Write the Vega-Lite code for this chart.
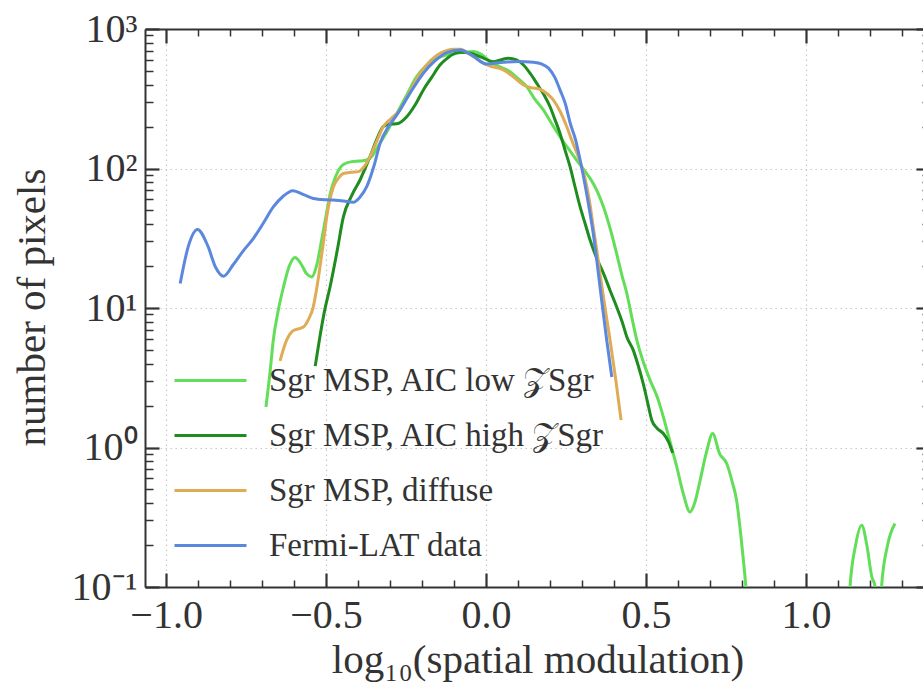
{
  "$schema": "https://vega.github.io/schema/vega-lite/v6.json",
  "autosize": {"type": "none"},
  "padding": {"left": 145, "top": 29, "right": 0, "bottom": 97},
  "width": 785,
  "height": 558,
  "background": "white",
  "config": {
    "view": {"stroke": null},
    "font": "Liberation Serif",
    "axis": {
      "domainColor": "#333333",
      "domainWidth": 2,
      "tickColor": "#333333",
      "labelFont": "Liberation Serif",
      "titleFont": "Liberation Serif",
      "labelColor": "#333333",
      "titleColor": "#333333",
      "titleFontWeight": "normal",
      "labelFontSize": 40,
      "titleFontSize": 41
    }
  },
  "data": {
    "values": [
      {"series": "Sgr MSP, AIC low 𝒵Sgr", "x": -0.688, "y": 1.95},
      {"series": "Sgr MSP, AIC low 𝒵Sgr", "x": -0.675, "y": 3.5},
      {"series": "Sgr MSP, AIC low 𝒵Sgr", "x": -0.665, "y": 5.9},
      {"series": "Sgr MSP, AIC low 𝒵Sgr", "x": -0.65, "y": 9.5},
      {"series": "Sgr MSP, AIC low 𝒵Sgr", "x": -0.633, "y": 14.2},
      {"series": "Sgr MSP, AIC low 𝒵Sgr", "x": -0.615, "y": 20},
      {"series": "Sgr MSP, AIC low 𝒵Sgr", "x": -0.597, "y": 23},
      {"series": "Sgr MSP, AIC low 𝒵Sgr", "x": -0.58, "y": 21},
      {"series": "Sgr MSP, AIC low 𝒵Sgr", "x": -0.56, "y": 17.5},
      {"series": "Sgr MSP, AIC low 𝒵Sgr", "x": -0.545, "y": 16.7},
      {"series": "Sgr MSP, AIC low 𝒵Sgr", "x": -0.53, "y": 20},
      {"series": "Sgr MSP, AIC low 𝒵Sgr", "x": -0.514, "y": 30.7},
      {"series": "Sgr MSP, AIC low 𝒵Sgr", "x": -0.5, "y": 46},
      {"series": "Sgr MSP, AIC low 𝒵Sgr", "x": -0.487, "y": 66},
      {"series": "Sgr MSP, AIC low 𝒵Sgr", "x": -0.47, "y": 88},
      {"series": "Sgr MSP, AIC low 𝒵Sgr", "x": -0.446, "y": 107},
      {"series": "Sgr MSP, AIC low 𝒵Sgr", "x": -0.42, "y": 112},
      {"series": "Sgr MSP, AIC low 𝒵Sgr", "x": -0.395, "y": 113},
      {"series": "Sgr MSP, AIC low 𝒵Sgr", "x": -0.373, "y": 115},
      {"series": "Sgr MSP, AIC low 𝒵Sgr", "x": -0.355, "y": 124},
      {"series": "Sgr MSP, AIC low 𝒵Sgr", "x": -0.341, "y": 140},
      {"series": "Sgr MSP, AIC low 𝒵Sgr", "x": -0.315, "y": 175},
      {"series": "Sgr MSP, AIC low 𝒵Sgr", "x": -0.29, "y": 223},
      {"series": "Sgr MSP, AIC low 𝒵Sgr", "x": -0.25, "y": 330},
      {"series": "Sgr MSP, AIC low 𝒵Sgr", "x": -0.217, "y": 456},
      {"series": "Sgr MSP, AIC low 𝒵Sgr", "x": -0.185, "y": 550},
      {"series": "Sgr MSP, AIC low 𝒵Sgr", "x": -0.154, "y": 617},
      {"series": "Sgr MSP, AIC low 𝒵Sgr", "x": -0.125, "y": 650},
      {"series": "Sgr MSP, AIC low 𝒵Sgr", "x": -0.102, "y": 662},
      {"series": "Sgr MSP, AIC low 𝒵Sgr", "x": -0.07, "y": 680},
      {"series": "Sgr MSP, AIC low 𝒵Sgr", "x": -0.04, "y": 689},
      {"series": "Sgr MSP, AIC low 𝒵Sgr", "x": -0.015, "y": 660},
      {"series": "Sgr MSP, AIC low 𝒵Sgr", "x": 0.0125, "y": 583},
      {"series": "Sgr MSP, AIC low 𝒵Sgr", "x": 0.04, "y": 540},
      {"series": "Sgr MSP, AIC low 𝒵Sgr", "x": 0.075, "y": 494},
      {"series": "Sgr MSP, AIC low 𝒵Sgr", "x": 0.1, "y": 440},
      {"series": "Sgr MSP, AIC low 𝒵Sgr", "x": 0.127, "y": 386},
      {"series": "Sgr MSP, AIC low 𝒵Sgr", "x": 0.15, "y": 320},
      {"series": "Sgr MSP, AIC low 𝒵Sgr", "x": 0.179, "y": 263},
      {"series": "Sgr MSP, AIC low 𝒵Sgr", "x": 0.205, "y": 210},
      {"series": "Sgr MSP, AIC low 𝒵Sgr", "x": 0.231, "y": 169},
      {"series": "Sgr MSP, AIC low 𝒵Sgr", "x": 0.258, "y": 138},
      {"series": "Sgr MSP, AIC low 𝒵Sgr", "x": 0.283, "y": 115},
      {"series": "Sgr MSP, AIC low 𝒵Sgr", "x": 0.31, "y": 95},
      {"series": "Sgr MSP, AIC low 𝒵Sgr", "x": 0.335, "y": 78},
      {"series": "Sgr MSP, AIC low 𝒵Sgr", "x": 0.352, "y": 65},
      {"series": "Sgr MSP, AIC low 𝒵Sgr", "x": 0.367, "y": 53},
      {"series": "Sgr MSP, AIC low 𝒵Sgr", "x": 0.388, "y": 37},
      {"series": "Sgr MSP, AIC low 𝒵Sgr", "x": 0.408, "y": 24.6},
      {"series": "Sgr MSP, AIC low 𝒵Sgr", "x": 0.425, "y": 17},
      {"series": "Sgr MSP, AIC low 𝒵Sgr", "x": 0.44, "y": 12.7},
      {"series": "Sgr MSP, AIC low 𝒵Sgr", "x": 0.455, "y": 8.7},
      {"series": "Sgr MSP, AIC low 𝒵Sgr", "x": 0.471, "y": 5.9},
      {"series": "Sgr MSP, AIC low 𝒵Sgr", "x": 0.49, "y": 4.2},
      {"series": "Sgr MSP, AIC low 𝒵Sgr", "x": 0.5125, "y": 3.04},
      {"series": "Sgr MSP, AIC low 𝒵Sgr", "x": 0.535, "y": 2.3},
      {"series": "Sgr MSP, AIC low 𝒵Sgr", "x": 0.554, "y": 1.66},
      {"series": "Sgr MSP, AIC low 𝒵Sgr", "x": 0.575, "y": 1.1},
      {"series": "Sgr MSP, AIC low 𝒵Sgr", "x": 0.596, "y": 0.726},
      {"series": "Sgr MSP, AIC low 𝒵Sgr", "x": 0.615, "y": 0.48},
      {"series": "Sgr MSP, AIC low 𝒵Sgr", "x": 0.6375, "y": 0.345},
      {"series": "Sgr MSP, AIC low 𝒵Sgr", "x": 0.652, "y": 0.4},
      {"series": "Sgr MSP, AIC low 𝒵Sgr", "x": 0.669, "y": 0.582},
      {"series": "Sgr MSP, AIC low 𝒵Sgr", "x": 0.69, "y": 0.95},
      {"series": "Sgr MSP, AIC low 𝒵Sgr", "x": 0.708, "y": 1.26},
      {"series": "Sgr MSP, AIC low 𝒵Sgr", "x": 0.73, "y": 0.9},
      {"series": "Sgr MSP, AIC low 𝒵Sgr", "x": 0.752, "y": 0.768},
      {"series": "Sgr MSP, AIC low 𝒵Sgr", "x": 0.77, "y": 0.56},
      {"series": "Sgr MSP, AIC low 𝒵Sgr", "x": 0.783, "y": 0.419},
      {"series": "Sgr MSP, AIC low 𝒵Sgr", "x": 0.795, "y": 0.25},
      {"series": "Sgr MSP, AIC low 𝒵Sgr", "x": 0.805, "y": 0.15},
      {"series": "Sgr MSP, AIC low 𝒵Sgr", "x": 0.812, "y": 0.1},
      {"series": "Sgr MSP, AIC low 𝒵Sgr", "x": 0.82, "y": 0.05},
      {"series": "Sgr MSP, AIC low 𝒵Sgr", "x": 1.13, "y": 0.05},
      {"series": "Sgr MSP, AIC low 𝒵Sgr", "x": 1.1375, "y": 0.1},
      {"series": "Sgr MSP, AIC low 𝒵Sgr", "x": 1.155, "y": 0.2},
      {"series": "Sgr MSP, AIC low 𝒵Sgr", "x": 1.174, "y": 0.277},
      {"series": "Sgr MSP, AIC low 𝒵Sgr", "x": 1.19, "y": 0.2},
      {"series": "Sgr MSP, AIC low 𝒵Sgr", "x": 1.205, "y": 0.12},
      {"series": "Sgr MSP, AIC low 𝒵Sgr", "x": 1.216, "y": 0.1},
      {"series": "Sgr MSP, AIC low 𝒵Sgr", "x": 1.222, "y": 0.05},
      {"series": "Sgr MSP, AIC low 𝒵Sgr", "x": 1.232, "y": 0.05},
      {"series": "Sgr MSP, AIC low 𝒵Sgr", "x": 1.236, "y": 0.1},
      {"series": "Sgr MSP, AIC low 𝒵Sgr", "x": 1.255, "y": 0.2},
      {"series": "Sgr MSP, AIC low 𝒵Sgr", "x": 1.278, "y": 0.285},

      {"series": "Sgr MSP, AIC high 𝒵Sgr", "x": -0.534, "y": 3.83},
      {"series": "Sgr MSP, AIC high 𝒵Sgr", "x": -0.521, "y": 5.9},
      {"series": "Sgr MSP, AIC high 𝒵Sgr", "x": -0.505, "y": 9.5},
      {"series": "Sgr MSP, AIC high 𝒵Sgr", "x": -0.4875, "y": 14.2},
      {"series": "Sgr MSP, AIC high 𝒵Sgr", "x": -0.465, "y": 26},
      {"series": "Sgr MSP, AIC high 𝒵Sgr", "x": -0.446, "y": 45},
      {"series": "Sgr MSP, AIC high 𝒵Sgr", "x": -0.42, "y": 64},
      {"series": "Sgr MSP, AIC high 𝒵Sgr", "x": -0.394, "y": 82.7},
      {"series": "Sgr MSP, AIC high 𝒵Sgr", "x": -0.3625, "y": 122},
      {"series": "Sgr MSP, AIC high 𝒵Sgr", "x": -0.34, "y": 165},
      {"series": "Sgr MSP, AIC high 𝒵Sgr", "x": -0.321, "y": 200},
      {"series": "Sgr MSP, AIC high 𝒵Sgr", "x": -0.3, "y": 208},
      {"series": "Sgr MSP, AIC high 𝒵Sgr", "x": -0.279, "y": 209},
      {"series": "Sgr MSP, AIC high 𝒵Sgr", "x": -0.248, "y": 235},
      {"series": "Sgr MSP, AIC high 𝒵Sgr", "x": -0.22, "y": 290},
      {"series": "Sgr MSP, AIC high 𝒵Sgr", "x": -0.196, "y": 366},
      {"series": "Sgr MSP, AIC high 𝒵Sgr", "x": -0.17, "y": 450},
      {"series": "Sgr MSP, AIC high 𝒵Sgr", "x": -0.144, "y": 552},
      {"series": "Sgr MSP, AIC high 𝒵Sgr", "x": -0.12, "y": 620},
      {"series": "Sgr MSP, AIC high 𝒵Sgr", "x": -0.102, "y": 662},
      {"series": "Sgr MSP, AIC high 𝒵Sgr", "x": -0.081, "y": 680},
      {"series": "Sgr MSP, AIC high 𝒵Sgr", "x": -0.05, "y": 670},
      {"series": "Sgr MSP, AIC high 𝒵Sgr", "x": -0.019, "y": 634},
      {"series": "Sgr MSP, AIC high 𝒵Sgr", "x": 0.023, "y": 583},
      {"series": "Sgr MSP, AIC high 𝒵Sgr", "x": 0.045, "y": 600},
      {"series": "Sgr MSP, AIC high 𝒵Sgr", "x": 0.07, "y": 617},
      {"series": "Sgr MSP, AIC high 𝒵Sgr", "x": 0.095, "y": 600},
      {"series": "Sgr MSP, AIC high 𝒵Sgr", "x": 0.117, "y": 552},
      {"series": "Sgr MSP, AIC high 𝒵Sgr", "x": 0.138, "y": 480},
      {"series": "Sgr MSP, AIC high 𝒵Sgr", "x": 0.158, "y": 409},
      {"series": "Sgr MSP, AIC high 𝒵Sgr", "x": 0.18, "y": 340},
      {"series": "Sgr MSP, AIC high 𝒵Sgr", "x": 0.2, "y": 277},
      {"series": "Sgr MSP, AIC high 𝒵Sgr", "x": 0.215, "y": 225},
      {"series": "Sgr MSP, AIC high 𝒵Sgr", "x": 0.231, "y": 179},
      {"series": "Sgr MSP, AIC high 𝒵Sgr", "x": 0.247, "y": 135},
      {"series": "Sgr MSP, AIC high 𝒵Sgr", "x": 0.2625, "y": 103},
      {"series": "Sgr MSP, AIC high 𝒵Sgr", "x": 0.278, "y": 74},
      {"series": "Sgr MSP, AIC high 𝒵Sgr", "x": 0.294, "y": 53},
      {"series": "Sgr MSP, AIC high 𝒵Sgr", "x": 0.31, "y": 40},
      {"series": "Sgr MSP, AIC high 𝒵Sgr", "x": 0.325, "y": 30.7},
      {"series": "Sgr MSP, AIC high 𝒵Sgr", "x": 0.345, "y": 23},
      {"series": "Sgr MSP, AIC high 𝒵Sgr", "x": 0.367, "y": 17.7},
      {"series": "Sgr MSP, AIC high 𝒵Sgr", "x": 0.388, "y": 13.3},
      {"series": "Sgr MSP, AIC high 𝒵Sgr", "x": 0.408, "y": 10.2},
      {"series": "Sgr MSP, AIC high 𝒵Sgr", "x": 0.425, "y": 8},
      {"series": "Sgr MSP, AIC high 𝒵Sgr", "x": 0.44, "y": 6.2},
      {"series": "Sgr MSP, AIC high 𝒵Sgr", "x": 0.46, "y": 4.99},
      {"series": "Sgr MSP, AIC high 𝒵Sgr", "x": 0.475, "y": 3.9},
      {"series": "Sgr MSP, AIC high 𝒵Sgr", "x": 0.491, "y": 2.88},
      {"series": "Sgr MSP, AIC high 𝒵Sgr", "x": 0.505, "y": 2.1},
      {"series": "Sgr MSP, AIC high 𝒵Sgr", "x": 0.518, "y": 1.57},
      {"series": "Sgr MSP, AIC high 𝒵Sgr", "x": 0.535, "y": 1.37},
      {"series": "Sgr MSP, AIC high 𝒵Sgr", "x": 0.554, "y": 1.26},
      {"series": "Sgr MSP, AIC high 𝒵Sgr", "x": 0.57, "y": 1.1},
      {"series": "Sgr MSP, AIC high 𝒵Sgr", "x": 0.583, "y": 0.915},

      {"series": "Sgr MSP, diffuse", "x": -0.644, "y": 4.18},
      {"series": "Sgr MSP, diffuse", "x": -0.623, "y": 5.9},
      {"series": "Sgr MSP, diffuse", "x": -0.602, "y": 6.9},
      {"series": "Sgr MSP, diffuse", "x": -0.585, "y": 7.1},
      {"series": "Sgr MSP, diffuse", "x": -0.571, "y": 7.3},
      {"series": "Sgr MSP, diffuse", "x": -0.555, "y": 8.3},
      {"series": "Sgr MSP, diffuse", "x": -0.54, "y": 10.2},
      {"series": "Sgr MSP, diffuse", "x": -0.53, "y": 13.5},
      {"series": "Sgr MSP, diffuse", "x": -0.519, "y": 19.8},
      {"series": "Sgr MSP, diffuse", "x": -0.508, "y": 30},
      {"series": "Sgr MSP, diffuse", "x": -0.498, "y": 45},
      {"series": "Sgr MSP, diffuse", "x": -0.488, "y": 60},
      {"series": "Sgr MSP, diffuse", "x": -0.477, "y": 74},
      {"series": "Sgr MSP, diffuse", "x": -0.46, "y": 86},
      {"series": "Sgr MSP, diffuse", "x": -0.446, "y": 92},
      {"series": "Sgr MSP, diffuse", "x": -0.42, "y": 94},
      {"series": "Sgr MSP, diffuse", "x": -0.399, "y": 95},
      {"series": "Sgr MSP, diffuse", "x": -0.38, "y": 104},
      {"series": "Sgr MSP, diffuse", "x": -0.3625, "y": 122},
      {"series": "Sgr MSP, diffuse", "x": -0.34, "y": 160},
      {"series": "Sgr MSP, diffuse", "x": -0.321, "y": 200},
      {"series": "Sgr MSP, diffuse", "x": -0.295, "y": 230},
      {"series": "Sgr MSP, diffuse", "x": -0.269, "y": 263},
      {"series": "Sgr MSP, diffuse", "x": -0.24, "y": 350},
      {"series": "Sgr MSP, diffuse", "x": -0.206, "y": 482},
      {"series": "Sgr MSP, diffuse", "x": -0.175, "y": 590},
      {"series": "Sgr MSP, diffuse", "x": -0.144, "y": 670},
      {"series": "Sgr MSP, diffuse", "x": -0.12, "y": 705},
      {"series": "Sgr MSP, diffuse", "x": -0.102, "y": 716},
      {"series": "Sgr MSP, diffuse", "x": -0.081, "y": 716},
      {"series": "Sgr MSP, diffuse", "x": -0.06, "y": 680},
      {"series": "Sgr MSP, diffuse", "x": -0.04, "y": 634},
      {"series": "Sgr MSP, diffuse", "x": -0.015, "y": 580},
      {"series": "Sgr MSP, diffuse", "x": 0.0125, "y": 543},
      {"series": "Sgr MSP, diffuse", "x": 0.054, "y": 509},
      {"series": "Sgr MSP, diffuse", "x": 0.085, "y": 455},
      {"series": "Sgr MSP, diffuse", "x": 0.117, "y": 397},
      {"series": "Sgr MSP, diffuse", "x": 0.14, "y": 380},
      {"series": "Sgr MSP, diffuse", "x": 0.169, "y": 370},
      {"series": "Sgr MSP, diffuse", "x": 0.19, "y": 345},
      {"series": "Sgr MSP, diffuse", "x": 0.21, "y": 310},
      {"series": "Sgr MSP, diffuse", "x": 0.232, "y": 255},
      {"series": "Sgr MSP, diffuse", "x": 0.252, "y": 200},
      {"series": "Sgr MSP, diffuse", "x": 0.27, "y": 155},
      {"series": "Sgr MSP, diffuse", "x": 0.288, "y": 122},
      {"series": "Sgr MSP, diffuse", "x": 0.302, "y": 98},
      {"series": "Sgr MSP, diffuse", "x": 0.315, "y": 74},
      {"series": "Sgr MSP, diffuse", "x": 0.325, "y": 55},
      {"series": "Sgr MSP, diffuse", "x": 0.335, "y": 38},
      {"series": "Sgr MSP, diffuse", "x": 0.346, "y": 26},
      {"series": "Sgr MSP, diffuse", "x": 0.356, "y": 17.7},
      {"series": "Sgr MSP, diffuse", "x": 0.372, "y": 10},
      {"series": "Sgr MSP, diffuse", "x": 0.3875, "y": 5.9},
      {"series": "Sgr MSP, diffuse", "x": 0.405, "y": 3.1},
      {"series": "Sgr MSP, diffuse", "x": 0.422, "y": 1.57},

      {"series": "Fermi-LAT data", "x": -0.956, "y": 15.0},
      {"series": "Fermi-LAT data", "x": -0.93, "y": 28},
      {"series": "Fermi-LAT data", "x": -0.902, "y": 36.6},
      {"series": "Fermi-LAT data", "x": -0.87, "y": 28},
      {"series": "Fermi-LAT data", "x": -0.845, "y": 19.5},
      {"series": "Fermi-LAT data", "x": -0.821, "y": 16.9},
      {"series": "Fermi-LAT data", "x": -0.79, "y": 20.5},
      {"series": "Fermi-LAT data", "x": -0.76, "y": 25.5},
      {"series": "Fermi-LAT data", "x": -0.727, "y": 31.6},
      {"series": "Fermi-LAT data", "x": -0.695, "y": 41},
      {"series": "Fermi-LAT data", "x": -0.665, "y": 53},
      {"series": "Fermi-LAT data", "x": -0.635, "y": 63},
      {"series": "Fermi-LAT data", "x": -0.604, "y": 69.3},
      {"series": "Fermi-LAT data", "x": -0.57, "y": 65},
      {"series": "Fermi-LAT data", "x": -0.54, "y": 61},
      {"series": "Fermi-LAT data", "x": -0.5, "y": 59.7},
      {"series": "Fermi-LAT data", "x": -0.477, "y": 59.4},
      {"series": "Fermi-LAT data", "x": -0.445, "y": 58.5},
      {"series": "Fermi-LAT data", "x": -0.415, "y": 57.2},
      {"series": "Fermi-LAT data", "x": -0.395, "y": 62},
      {"series": "Fermi-LAT data", "x": -0.373, "y": 74},
      {"series": "Fermi-LAT data", "x": -0.35, "y": 105},
      {"series": "Fermi-LAT data", "x": -0.331, "y": 152},
      {"series": "Fermi-LAT data", "x": -0.305, "y": 200},
      {"series": "Fermi-LAT data", "x": -0.279, "y": 242},
      {"series": "Fermi-LAT data", "x": -0.24, "y": 340},
      {"series": "Fermi-LAT data", "x": -0.196, "y": 482},
      {"series": "Fermi-LAT data", "x": -0.16, "y": 590},
      {"series": "Fermi-LAT data", "x": -0.123, "y": 678},
      {"series": "Fermi-LAT data", "x": -0.081, "y": 708},
      {"series": "Fermi-LAT data", "x": -0.04, "y": 640},
      {"series": "Fermi-LAT data", "x": 0.0, "y": 562},
      {"series": "Fermi-LAT data", "x": 0.054, "y": 578},
      {"series": "Fermi-LAT data", "x": 0.1, "y": 585},
      {"series": "Fermi-LAT data", "x": 0.148, "y": 578},
      {"series": "Fermi-LAT data", "x": 0.175, "y": 560},
      {"series": "Fermi-LAT data", "x": 0.195, "y": 524},
      {"series": "Fermi-LAT data", "x": 0.215, "y": 450},
      {"series": "Fermi-LAT data", "x": 0.231, "y": 366},
      {"series": "Fermi-LAT data", "x": 0.248, "y": 290},
      {"series": "Fermi-LAT data", "x": 0.263, "y": 211},
      {"series": "Fermi-LAT data", "x": 0.28, "y": 160},
      {"series": "Fermi-LAT data", "x": 0.294, "y": 115},
      {"series": "Fermi-LAT data", "x": 0.31, "y": 75},
      {"series": "Fermi-LAT data", "x": 0.325, "y": 47.7},
      {"series": "Fermi-LAT data", "x": 0.336, "y": 33},
      {"series": "Fermi-LAT data", "x": 0.346, "y": 22},
      {"series": "Fermi-LAT data", "x": 0.36, "y": 12},
      {"series": "Fermi-LAT data", "x": 0.377, "y": 5.9},
      {"series": "Fermi-LAT data", "x": 0.393, "y": 3.2}
    ]
  },
  "layer": [
    {
      "mark": {"type": "line", "clip": true, "strokeWidth": 3, "interpolate": "monotone"},
      "encoding": {
        "x": {
          "field": "x", "type": "quantitative",
          "scale": {"domain": [-1.066, 1.3875], "nice": false, "zero": false},
          "axis": {
            "orient": "bottom",
            "title": "log₁₀(spatial modulation)",
            "titleY": 85,
            "titleBaseline": "alphabetic",
            "values": [-1.0, -0.9, -0.8, -0.7, -0.6, -0.5, -0.4, -0.3, -0.2, -0.1, 0.0, 0.1, 0.2, 0.3, 0.4, 0.5, 0.6, 0.7, 0.8, 0.9, 1.0, 1.1, 1.2, 1.3],
            "labelExpr": "abs(datum.value*2 - round(datum.value*2)) < 0.001 ? format(datum.value, '.1f') : ''",
            "labelPadding": 22,
            "labelBaseline": "top",
            "labelFlush": false,
            "labelOverlap": false,
            "tickSize": {"condition": {"test": "abs(datum.value*2 - round(datum.value*2)) < 0.001", "value": -14}, "value": -7},
            "tickWidth": {"condition": {"test": "abs(datum.value*2 - round(datum.value*2)) < 0.001", "value": 2.2}, "value": 1.5},
            "grid": true,
            "gridColor": "#c8c8c8",
            "gridDash": [1.5, 3.5],
            "gridWidth": 1.2,
            "gridOpacity": {"condition": {"test": "abs(datum.value*2 - round(datum.value*2)) < 0.001", "value": 1}, "value": 0}
          }
        },
        "y": {
          "field": "y", "type": "quantitative",
          "scale": {"type": "log", "domain": [0.1, 1000], "nice": false},
          "axis": {
            "orient": "left",
            "title": "number of pixels",
            "titleX": -101,
            "titleY": 278,
            "titleBaseline": "alphabetic",
            "values": [0.1, 0.2, 0.3, 0.4, 0.5, 0.6, 0.7, 0.8, 0.9, 1, 2, 3, 4, 5, 6, 7, 8, 9, 10, 20, 30, 40, 50, 60, 70, 80, 90, 100, 200, 300, 400, 500, 600, 700, 800, 900, 1000],
            "labelExpr": "datum.value == 0.1 ? '10⁻¹' : datum.value == 1 ? '10⁰' : datum.value == 10 ? '10¹' : datum.value == 100 ? '10²' : datum.value == 1000 ? '10³' : ''",
            "labelPadding": 22,
            "labelFlush": false,
            "labelOverlap": false,
            "tickSize": {"condition": {"test": "abs(log(datum.value)/LN10 - round(log(datum.value)/LN10)) < 0.001", "value": -14}, "value": -8},
            "tickWidth": {"condition": {"test": "abs(log(datum.value)/LN10 - round(log(datum.value)/LN10)) < 0.001", "value": 2.2}, "value": 1.5},
            "grid": true,
            "gridColor": "#c8c8c8",
            "gridDash": [1.5, 3.5],
            "gridWidth": 1.2,
            "gridOpacity": {"condition": {"test": "abs(log(datum.value)/LN10 - round(log(datum.value)/LN10)) < 0.001", "value": 1}, "value": 0}
          }
        },
        "color": {
          "field": "series", "type": "nominal",
          "scale": {
            "domain": ["Sgr MSP, AIC low 𝒵Sgr", "Sgr MSP, AIC high 𝒵Sgr", "Sgr MSP, diffuse", "Fermi-LAT data"],
            "range": ["#62de58", "#1e8c1e", "#dfac55", "#5b87df"]
          },
          "legend": {
            "orient": "none",
            "legendX": 28,
            "legendY": 314,
            "title": null,
            "symbolType": "stroke",
            "symbolSize": 5184,
            "symbolStrokeWidth": 3,
            "labelFont": "Liberation Serif",
            "labelFontSize": 33,
            "labelColor": "#333333",
            "labelOffset": 21,
            "labelLimit": 600,
            "rowPadding": -2.5,
            "padding": 0
          }
        }
      }
    },
    {
      "mark": {"type": "point", "opacity": 0},
      "encoding": {
        "x": {
          "field": "x", "type": "quantitative",
          "axis": {
            "orient": "top",
            "title": null,
            "labels": false,
            "grid": false,
            "values": [-1.0, -0.9, -0.8, -0.7, -0.6, -0.5, -0.4, -0.3, -0.2, -0.1, 0.0, 0.1, 0.2, 0.3, 0.4, 0.5, 0.6, 0.7, 0.8, 0.9, 1.0, 1.1, 1.2, 1.3],
            "tickSize": {"condition": {"test": "abs(datum.value*2 - round(datum.value*2)) < 0.001", "value": -14}, "value": -7},
            "tickWidth": {"condition": {"test": "abs(datum.value*2 - round(datum.value*2)) < 0.001", "value": 2.2}, "value": 1.5}
          }
        },
        "y": {
          "field": "y", "type": "quantitative",
          "axis": {
            "orient": "right",
            "title": null,
            "labels": false,
            "grid": false,
            "values": [0.1, 0.2, 0.3, 0.4, 0.5, 0.6, 0.7, 0.8, 0.9, 1, 2, 3, 4, 5, 6, 7, 8, 9, 10, 20, 30, 40, 50, 60, 70, 80, 90, 100, 200, 300, 400, 500, 600, 700, 800, 900, 1000],
            "tickSize": {"condition": {"test": "abs(log(datum.value)/LN10 - round(log(datum.value)/LN10)) < 0.001", "value": -14}, "value": -8},
            "tickWidth": {"condition": {"test": "abs(log(datum.value)/LN10 - round(log(datum.value)/LN10)) < 0.001", "value": 2.2}, "value": 1.5}
          }
        }
      }
    }
  ],
  "resolve": {"axis": {"x": "independent", "y": "independent"}}
}
